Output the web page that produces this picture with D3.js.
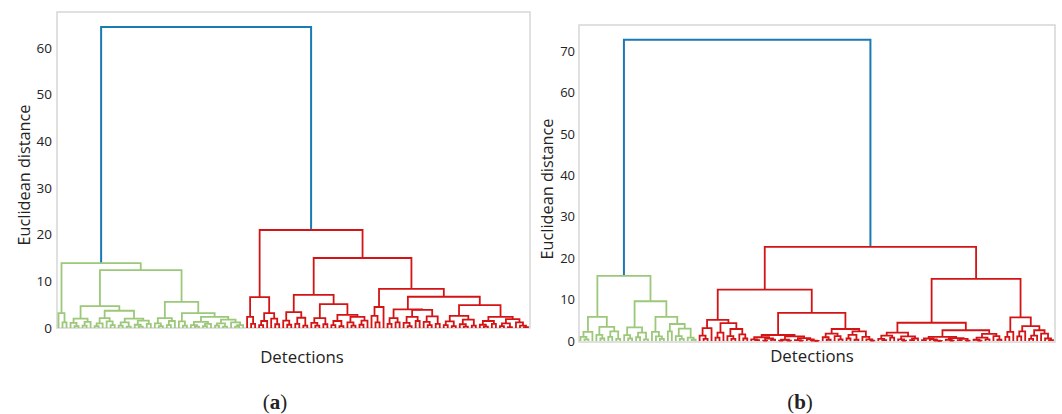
<!DOCTYPE html>
<html>
<head>
<meta charset="utf-8">
<script src="https://cdn.jsdelivr.net/npm/d3@7"></script>
<style>
  body { margin: 0; background: #fff; }
  text { font-family: "Open Sans", sans-serif; fill: #222; }
</style>
</head>
<body>
<svg width="1062" height="414"></svg>
<script>
// tree nodes are [mergeHeight, left, right]; a leaf is 0
var ticksA = [0, 10, 20, 30, 40, 50, 60];
var ticksB = [0, 10, 20, 30, 40, 50, 60, 70];
var yTitle = "Euclidean distance";
var xTitle = "Detections";
var panelLetters = ["a", "b"];

// panel (a)
var rootHeightA = 64.5;
var greenA = [13.9,
    [3.2, 0, [1.2, 0, 0]],
    [12.4,
        [4.7,
            [2.0, [1.1, 0, [0.4, 0, 0]], [1.3, [0.5, 0, 0], 0]],
            [3.7, [2.1, [1.0, [0.4, 0, 0], 0], [1.4, 0, [0.6, 0, 0]]],
                  [2.0, [1.2, [0.5, 0, 0], [0.3, 0, 0]], [1.6, [0.7, 0, [0.3, 0, 0]], [0.9, 0, 0]]]]],
        [5.6,
            [2.1, [1.0, 0, [0.4, 0, 0]], [1.5, [0.6, 0, 0], 0]],
            [3.2, [1.4, 0, [0.5, 0, 0]],
                  [2.4, [1.3, [0.6, 0, [0.3, 0, 0]], [0.9, [0.4, 0, 0], 0]],
                        [1.8, [1.0, [0.5, 0, 0], [0.3, 0, 0]], [1.2, 0, [0.6, [0.3, 0, 0], 0]]]]]]]];
var redA = [21.0,
    [6.6, [2.4, 0, [0.9, 0, 0]], [3.2, [1.5, [0.6, 0, 0], 0], [2.0, 0, [0.8, 0, 0]]]],
    [15.0,
        [7.1,
            [3.4, [1.6, 0, [0.7, 0, 0]], [2.2, [0.9, 0, 0], [0.5, 0, 0]]],
            [5.1, [2.1, [1.1, 0, [0.5, 0, 0]], [0.8, 0, 0]],
                  [2.8, [1.5, [0.6, 0, 0], [0.4, 0, 0]], [2.4, [1.2, 0, [0.5, 0, 0]], [1.6, [0.7, 0, 0], 0]]]]],
        [8.4,
            [4.5, [2.6, 0, [1.2, 0, 0]], 0],
            [6.7,
                [4.0, [2.1, [0.9, 0, 0], [1.2, 0, 0]],
                      [3.9, [2.4, [1.1, 0, [0.4, 0, 0]], [1.5, 0, 0]],
                            [2.5, [1.3, 0, [0.6, 0, 0]], [0.9, 0, 0]]]],
                [4.9, [2.6, [1.4, [0.6, 0, 0], [0.4, 0, 0]], [1.8, [0.8, 0, [0.3, 0, 0]], [0.5, 0, 0]]],
                      [2.4, [1.5, [0.7, 0, [0.3, 0, 0]], [0.9, 0, 0]],
                            [1.9, [1.0, [0.4, 0, 0], [0.2, 0, 0]], [1.2, 0, [0.5, 0, [0.2, 0, 0]]]]]]]]]];

// panel (b)
var rootHeightB = 72.7;
var greenB = [15.7,
    [5.8, [2.2, [1.0, 0, [0.4, 0, 0]], 0],
          [3.4, [1.5, 0, [0.6, 0, 0]], [2.3, [1.0, 0, 0], [0.5, 0, 0]]]],
    [9.6, [3.3, [1.4, 0, [0.6, 0, 0]], [2.0, [0.9, 0, 0], [0.4, 0, 0]]],
          [5.8, [2.2, 0, [1.1, 0, [0.5, 0, 0]]],
                [4.1, [2.3, 0, 0], [3.0, [1.2, 0, [0.5, 0, 0]], [0.8, 0, [0.3, 0, 0]]]]]]];
var redB = [22.7,
    [12.4,
        [5.1, [3.1, [1.3, 0, [0.5, 0, 0]], 0],
              [4.3, [2.0, [0.8, 0, 0], 0], [2.9, [1.2, 0, [0.5, 0, 0]], [1.6, 0, [0.6, 0, 0]]]]],
        [6.8, [1.45, [0.9, [0.4, 0, [0.2, 0, 0]], [0.6, [0.1, 0, 0], [0.3, 0, 0]]],
                     [1.1, [0.3, [0.1, 0, 0], [0.1, 0, 0]],
                           [0.7, [0.2, 0, [0.1, 0, 0]], [0.4, 0, [0.1, 0, [0.05, 0, 0]]]]]],
              [2.9, [1.8, [0.9, 0, [0.3, 0, 0]], [1.2, 0, [0.4, 0, 0]]],
                    [2.3, [1.5, [0.6, 0, 0], [0.3, 0, 0]], [1.0, 0, [0.4, 0, [0.1, 0, 0]]]]]]],
    [15.0,
        [4.4, [2.0, [1.3, [0.5, 0, [0.2, 0, 0]], [0.8, 0, 0]],
                    [1.1, [0.4, 0, [0.1, 0, 0]], [0.6, [0.2, 0, 0], 0]]],
              [2.6, [1.0, [0.6, [0.2, 0, 0], [0.4, 0, [0.1, 0, [0.05, 0, 0]]]],
                          [0.7, [0.3, 0, [0.1, 0, 0]], [0.5, [0.2, 0, 0], [0.1, 0, 0]]]],
                    [1.7, [0.8, [0.3, 0, [0.1, 0, 0]], [0.4, 0, 0]], [1.2, 0, [0.3, 0, 0]]]]],
        [5.7, [2.2, [1.0, 0, 0], 0],
              [3.6, [2.3, [1.1, 0, 0], 0],
                    [2.6, [1.3, [0.5, 0, 0], 0], [1.8, 0, [0.6, 0, [0.2, 0, 0]]]]]]]];

var colBlue = "#1a7ab3", colGreen = "#9cc87a", colRed = "#d41414";

var svg = d3.select("svg");

function drawPanel(opt) {
    var g = svg.append("g");
    var f = opt.frame;

    var y = d3.scaleLinear().domain([0, opt.yMax]).range([opt.y0px, opt.yMaxPx]);

    g.append("rect")
        .attr("x", f.x0).attr("y", f.y0)
        .attr("width", f.x1 - f.x0).attr("height", f.y1 - f.y0)
        .attr("fill", "none").attr("stroke", "#d6d6d6").attr("stroke-width", 1.5);

    var root = d3.hierarchy([opt.rootHeight, opt.green, opt.red], function(d) {
        return Array.isArray(d) ? d.slice(1) : null;
    });
    var leaves = root.leaves();
    var x = d3.scaleLinear().domain([0, leaves.length - 1]).range([f.x0 + 1.5, f.x1 - 2]);
    leaves.forEach(function(l, i) { l.px = x(i); });
    root.eachAfter(function(n) {
        n.h = n.children ? n.data[0] : 0;
        if (n.children) n.px = (n.children[0].px + n.children[1].px) / 2;
    });

    var greenRoot = root.children[0];
    var nodes = root.descendants().filter(function(n) { return n.children; });

    g.selectAll("path.link")
        .data(nodes)
        .enter()
        .append("path")
        .attr("class", "link")
        .attr("fill", "none")
        .attr("stroke-width", function(d) { return d.depth === 0 ? 2 : 1.8; })
        .attr("stroke", function(d) {
            if (d.depth === 0) return colBlue;
            return d.ancestors().indexOf(greenRoot) >= 0 ? colGreen : colRed;
        })
        .attr("d", function(d) {
            var l = d.children[0], r = d.children[1];
            return "M" + l.px + "," + y(l.h) + "V" + y(d.h) + "H" + r.px + "V" + y(r.h);
        });

    var axis = d3.axisLeft(y).tickValues(opt.ticks).tickSize(0).tickPadding(opt.pad);
    var ax = g.append("g").attr("transform", "translate(" + f.x0 + ",0)").call(axis);
    ax.select(".domain").remove();
    ax.selectAll("text").style("font-family", "'Open Sans', sans-serif")
        .style("font-size", opt.tickFont + "px").attr("fill", "#222");

    g.append("text")
        .attr("transform", "translate(" + opt.yTitleX + "," + opt.yTitleY + ") rotate(-90)")
        .attr("text-anchor", "middle")
        .style("font-size", "16.3px")
        .text(yTitle);

    g.append("text")
        .attr("x", opt.xTitleX).attr("y", opt.xTitleY)
        .attr("text-anchor", "middle")
        .style("font-size", "16.8px")
        .text(xTitle);

    var cap = g.append("text")
        .attr("x", opt.capX).attr("y", 409)
        .attr("text-anchor", "middle")
        .style("font-family", "'Liberation Serif', serif")
        .style("font-size", "21px");
    cap.append("tspan").text("(");
    cap.append("tspan").style("font-weight", "bold").text(opt.letter);
    cap.append("tspan").text(")");
}

drawPanel({
    frame: {x0: 57, x1: 530, y0: 12, y1: 328},
    yMax: 60, y0px: 328, yMaxPx: 48,
    rootHeight: rootHeightA, green: greenA, red: redA,
    ticks: ticksA, pad: 5, tickFont: 13.5,
    yTitleX: 30, yTitleY: 175,
    xTitleX: 302, xTitleY: 363,
    capX: 275, letter: panelLetters[0]
});

drawPanel({
    frame: {x0: 579, x1: 1055, y0: 25, y1: 342},
    yMax: 70, y0px: 341, yMaxPx: 51,
    rootHeight: rootHeightB, green: greenB, red: redB,
    ticks: ticksB, pad: 4, tickFont: 13,
    yTitleX: 553, yTitleY: 189,
    xTitleX: 812, xTitleY: 362,
    capX: 800, letter: panelLetters[1]
});
</script>
</body>
</html>
